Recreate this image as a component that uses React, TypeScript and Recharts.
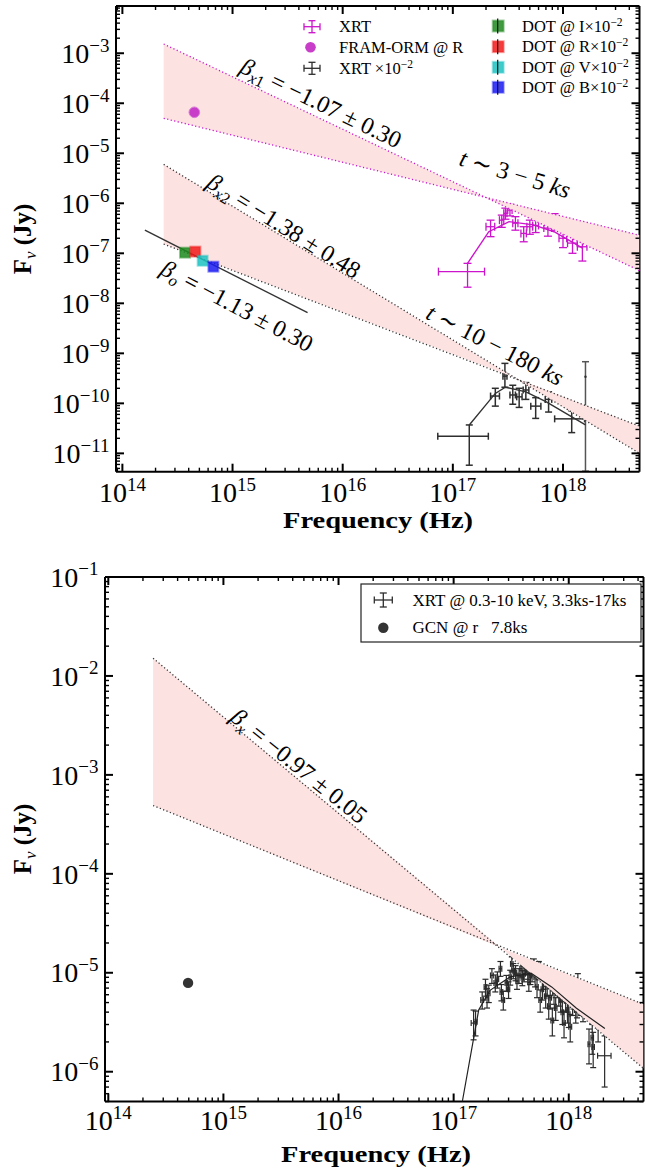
import React from 'react';
import { ComposedChart, Scatter, XAxis, YAxis, ErrorBar } from 'recharts';

const SERIF = '"Liberation Serif", "DejaVu Serif", "Times New Roman", serif';
const PINK = '#fde2e2';
const MAGENTA = '#cc14cc';
const DARK = '#2e2e2e';

// ---------------- axes ----------------
const TOP_X_DOMAIN: [number, number] = [8.75e13, 4.95e18];
const TOP_Y_DOMAIN: [number, number] = [4.3e-12, 8.8e-3];
const BOT_X_DOMAIN: [number, number] = [9.36e13, 4.46e18];
const BOT_Y_DOMAIN: [number, number] = [5.0e-7, 1e-1];

// ---------------- top panel data ----------------
// XRT (3-5 ks), magenta
const xrtNu = [1.36e17, 2.2e17, 2.78e17, 3.0e17, 3.3e17, 3.7e17, 4.4e17, 5.0e17, 5.65e17, 7.3e17, 8.4e17, 1.0e18, 1.22e18, 1.5e18];
const xrtNuLo = [7.4e16, 2.0e17, 2.65e17, 2.9e17, 3.15e17, 3.5e17, 4.15e17, 4.7e17, 5.3e17, 6.7e17, 7.9e17, 9.2e17, 1.1e18, 1.35e18];
const xrtNuHi = [1.94e17, 2.4e17, 2.9e17, 3.1e17, 3.45e17, 3.9e17, 4.65e17, 5.3e17, 6.0e17, 7.9e17, 8.9e17, 1.08e18, 1.35e18, 1.65e18];
const xrtF = [4.3e-8, 3.4e-7, 4.6e-7, 6.3e-7, 7.3e-7, 4.0e-7, 2.5e-7, 3.4e-7, 3.6e-7, 3.2e-7, 4.3e-7, 2.0e-7, 1.6e-7, 1.35e-7];
const xrtFLo = [2.1e-8, 2.15e-7, 3.3e-7, 4.8e-7, 5.6e-7, 2.9e-7, 1.7e-7, 2.4e-7, 2.6e-7, 2.2e-7, 2.9e-7, 1.3e-7, 1.0e-7, 7.0e-8];
const xrtFHi = [6.3e-8, 4.6e-7, 5.8e-7, 8.0e-7, 9.5e-7, 5.4e-7, 3.4e-7, 4.6e-7, 4.9e-7, 4.4e-7, 6.2e-7, 2.9e-7, 2.3e-7, 2.0e-7];
const xrtModelNu = [1.36e17, 2.12e17, 3.24e17, 5.4e17, 8.3e17, 1.52e18];
const xrtModelF = [6.3e-8, 2.7e-7, 4.3e-7, 3.7e-7, 2.7e-7, 1.26e-7];

// XRT x 1e-2 (10-180 ks), black
const xrtLateNu = [1.41e17, 2.43e17, 2.97e17, 3.5e17, 4.0e17, 4.6e17, 5.65e17, 7.4e17, 1.2e18];
const xrtLateNuLo = [7.3e16, 2.2e17, 2.85e17, 3.3e17, 3.8e17, 4.35e17, 5.1e17, 6.9e17, 8.4e17];
const xrtLateNuHi = [2.1e17, 2.65e17, 3.1e17, 3.7e17, 4.25e17, 4.9e17, 6.3e17, 7.9e17, 1.57e18];
const xrtLateF = [2.2e-11, 1.4e-10, 3.5e-10, 1.47e-10, 1.35e-10, 1.85e-10, 8.8e-11, 1.2e-10, 4.9e-11];
const xrtLateFLo = [5.8e-12, 8.8e-11, 2.1e-10, 9.6e-11, 8.3e-11, 1.2e-10, 5.0e-11, 6.7e-11, 2.6e-11];
const xrtLateFHi = [3.7e-11, 2.0e-10, 6.3e-10, 2.3e-10, 2.0e-10, 2.6e-10, 1.3e-10, 1.7e-10, 7.1e-11];
const xrtLateLongNu = [1.6e18];
const xrtLateLongF = [3.4e-10];
const xrtLateLongFLo = [4.4e-12];
const xrtLateLongFHi = [6.8e-10];
const xrtLateModelNu = [1.41e17, 2.43e17, 3.0e17, 4.6e17, 7.0e17, 1.6e18];
const xrtLateModelF = [3.7e-11, 1.58e-10, 2.1e-10, 1.7e-10, 1.08e-10, 3.7e-11];

// optical
const framNu = [4.5e14];
const framF = [6.6e-5];
const dotBands = ['I', 'R', 'V', 'B'];
const dotNu = [3.7e14, 4.6e14, 5.35e14, 6.7e14];
const dotF = [1.03e-7, 1.08e-7, 7.1e-8, 5.4e-8];
const DOT_COLORS = ['#1f8a1f', '#f21a1a', '#1fc2c2', '#1a1af2'];
const betaOptNu = [1.6e14, 4.8e15];
const betaOptF = [2.9e-7, 6.5e-9];

// spectral-index wedges: [start, pivot, end]
const wedgeX1Nu = [2.37e14, 1.94e17, 4.95e18];
const wedgeX1Steep = [1.53e-3, 1.33e-6, 4.5e-8];
const wedgeX1Shallow = [5.0e-5, 1.33e-6, 2.3e-7];
const wedgeX2Nu = [2.37e14, 3.6e17, 4.95e18];
const wedgeX2Steep = [6.0e-6, 3.3e-10, 1.0e-11];
const wedgeX2Shallow = [1.53e-7, 3.3e-10, 3.5e-11];

// ---------------- bottom panel data ----------------
const botNu = [
  1.49e17, 1.55e17, 1.77e17, 1.89e17, 1.95e17, 2.02e17, 2.15e17, 2.3e17, 2.4e17, 2.55e17,
  2.6e17, 2.7e17, 2.87e17, 3.0e17, 3.1e17, 3.2e17, 3.3e17, 3.45e17, 3.55e17, 3.7e17,
  3.85e17, 3.95e17, 4.1e17, 4.2e17, 4.4e17, 4.5e17, 4.65e17, 4.8e17, 4.97e17, 5.1e17,
  5.3e17, 5.5e17, 5.65e17, 5.9e17, 6.05e17, 6.3e17, 6.5e17, 6.7e17, 6.9e17, 7.2e17,
  7.45e17, 7.7e17, 8.0e17, 8.2e17, 8.5e17, 8.8e17, 9.1e17, 9.4e17, 9.75e17, 1.0e18,
  1.03e18, 1.08e18, 1.1e18, 1.15e18, 1.18e18, 1.2e18, 1.23e18, 1.26e18, 1.28e18, 1.3e18,
  1.33e18, 1.5e18, 1.6e18, 1.63e18, 1.8e18, 2.05e18,
];
const botNuLo = [
  1.42e17, 1.5e17, 1.72e17, 1.84e17, 1.9e17, 1.97e17, 2.09e17, 2.24e17, 2.34e17, 2.48e17,
  2.53e17, 2.63e17, 2.8e17, 2.93e17, 3.03e17, 3.12e17, 3.22e17, 3.37e17, 3.47e17, 3.62e17,
  3.76e17, 3.86e17, 4.0e17, 4.1e17, 4.3e17, 4.4e17, 4.54e17, 4.69e17, 4.85e17, 4.98e17,
  5.17e17, 5.37e17, 5.5e17, 5.75e17, 5.9e17, 6.14e17, 6.34e17, 6.53e17, 6.72e17, 7.0e17,
  7.25e17, 7.5e17, 7.8e17, 8.0e17, 8.28e17, 8.57e17, 8.87e17, 9.16e17, 9.5e17, 9.75e17,
  1.0e18, 1.05e18, 1.07e18, 1.12e18, 1.15e18, 1.17e18, 1.2e18, 1.23e18, 1.25e18, 1.27e18,
  1.3e18, 1.47e18, 1.56e18, 1.59e18, 1.75e18, 1.78e18,
];
const botNuHi = [
  1.56e17, 1.6e17, 1.82e17, 1.94e17, 2.0e17, 2.07e17, 2.21e17, 2.36e17, 2.46e17, 2.62e17,
  2.67e17, 2.77e17, 2.94e17, 3.07e17, 3.17e17, 3.28e17, 3.38e17, 3.53e17, 3.63e17, 3.78e17,
  3.94e17, 4.04e17, 4.2e17, 4.3e17, 4.5e17, 4.6e17, 4.76e17, 4.91e17, 5.09e17, 5.22e17,
  5.43e17, 5.63e17, 5.8e17, 6.05e17, 6.2e17, 6.46e17, 6.66e17, 6.87e17, 7.08e17, 7.4e17,
  7.65e17, 7.9e17, 8.2e17, 8.4e17, 8.72e17, 9.03e17, 9.33e17, 9.64e17, 1.0e18, 1.025e18,
  1.06e18, 1.11e18, 1.13e18, 1.18e18, 1.21e18, 1.23e18, 1.26e18, 1.29e18, 1.31e18, 1.33e18,
  1.36e18, 1.53e18, 1.64e18, 1.67e18, 1.85e18, 2.33e18,
];
const botF = [
  3.1e-6, 3.2e-6, 5.3e-6, 7.2e-6, 5.6e-6, 6.2e-6, 9.4e-6, 7.9e-6, 8.6e-6, 1.1e-5,
  6.4e-6, 5.3e-6, 7.9e-6, 6.8e-6, 9.0e-6, 1.23e-5, 1.05e-5, 1.0e-5, 8.2e-6, 9.4e-6,
  1.1e-5, 8.9e-6, 9.8e-6, 1.15e-5, 1.05e-5, 8.0e-6, 9.4e-6, 1.0e-5, 1.15e-5, 9.0e-6,
  7.2e-6, 1.07e-5, 5.3e-6, 6.8e-6, 8.6e-6, 5.8e-6, 7.4e-6, 4.6e-6, 5.6e-6, 3.3e-6,
  6.2e-6, 4.4e-6, 7.9e-6, 6.0e-6, 5.3e-6, 4.0e-6, 3.1e-6, 5.2e-6, 4.2e-6, 3.8e-6,
  2.85e-6, 4.9e-6, 5.6e-6, 4.2e-6, 4.6e-6, 7.9e-6, 6.4e-6, 5.8e-6, 4.8e-6, 5.0e-6,
  4.2e-6, 1.9e-6, 2.2e-6, 1.78e-6, 2.85e-6, 1.45e-6,
];
const botFLo = [
  2.1e-6, 2.3e-6, 4.3e-6, 5.8e-6, 4.4e-6, 5.0e-6, 7.8e-6, 6.4e-6, 7.0e-6, 9.2e-6,
  5.2e-6, 4.2e-6, 6.5e-6, 5.5e-6, 7.5e-6, 1.02e-5, 8.7e-6, 8.3e-6, 6.8e-6, 7.8e-6,
  9.1e-6, 7.4e-6, 8.1e-6, 9.5e-6, 8.6e-6, 6.5e-6, 7.6e-6, 8.1e-6, 9.3e-6, 7.2e-6,
  5.6e-6, 8.5e-6, 4.0e-6, 5.3e-6, 6.8e-6, 4.4e-6, 5.8e-6, 3.4e-6, 4.3e-6, 2.3e-6,
  4.8e-6, 3.3e-6, 6.2e-6, 4.6e-6, 4.0e-6, 3.0e-6, 2.2e-6, 4.0e-6, 3.1e-6, 2.8e-6,
  2.0e-6, 3.7e-6, 4.3e-6, 3.1e-6, 3.5e-6, 6.2e-6, 5.0e-6, 4.5e-6, 3.7e-6, 3.9e-6,
  3.2e-6, 1.2e-6, 1.5e-6, 1.1e-6, 2.0e-6, 7.0e-7,
];
const botFHi = [
  4.2e-6, 4.1e-6, 6.4e-6, 8.6e-6, 6.9e-6, 7.5e-6, 1.1e-5, 9.5e-6, 1.02e-5, 1.3e-5,
  7.6e-6, 6.5e-6, 9.4e-6, 8.1e-6, 1.06e-5, 1.45e-5, 1.24e-5, 1.18e-5, 9.7e-6, 1.1e-5,
  1.3e-5, 1.05e-5, 1.16e-5, 1.36e-5, 1.25e-5, 9.6e-6, 1.13e-5, 1.2e-5, 1.38e-5, 1.09e-5,
  8.9e-6, 1.3e-5, 6.7e-6, 8.4e-6, 1.05e-5, 7.3e-6, 9.1e-6, 5.9e-6, 7.0e-6, 4.4e-6,
  7.7e-6, 5.6e-6, 9.7e-6, 7.5e-6, 6.7e-6, 5.1e-6, 4.1e-6, 6.5e-6, 5.4e-6, 4.9e-6,
  3.8e-6, 6.2e-6, 7.0e-6, 5.4e-6, 5.8e-6, 9.8e-6, 7.9e-6, 7.2e-6, 6.0e-6, 6.2e-6,
  5.3e-6, 2.7e-6, 3.0e-6, 2.5e-6, 3.8e-6, 2.3e-6,
];
const botModelNu = [1.19e17, 1.65e17, 2.07e17, 3.11e17, 4.7e17, 7.1e17, 1.16e18, 2.06e18];
const botModelF = [5.0e-7, 4.2e-6, 6.65e-6, 9.1e-6, 9.9e-6, 7.2e-6, 4.4e-6, 2.73e-6];
const gcnNu = [4.93e14];
const gcnF = [7.9e-6];
const wedgeXNu = [2.45e14, 2.55e17, 4.46e18];
const wedgeXSteep = [1.51e-2, 1.8e-5, 1.08e-6];
const wedgeXShallow = [4.9e-4, 1.8e-5, 4.8e-6];

// ---------------- ticks ----------------
const X_MAJOR = [1e14, 1e15, 1e16, 1e17, 1e18];
const TOP_Y_MAJOR = [1e-11, 1e-10, 1e-9, 1e-8, 1e-7, 1e-6, 1e-5, 1e-4, 1e-3];
const BOT_Y_MAJOR = [1e-6, 1e-5, 1e-4, 1e-3, 1e-2, 1e-1];

const withMinors = (majors: number[], domain: [number, number]) => {
  const out: number[] = [];
  const decades = [majors[0] / 10, ...majors];
  decades.forEach((m) => {
    for (let k = 1; k <= 9; k++) {
      const v = k * m;
      if (v >= domain[0] * 0.9999 && v <= domain[1] * 1.0001) out.push(v);
    }
  });
  return out;
};

// ---------------- helpers ----------------
const pts = (nu: number[], f: number[]) => nu.map((x, i) => ({ x, y: f[i] }));
const errRows = (nu: number[], nuLo: number[], nuHi: number[], f: number[], fLo: number[], fHi: number[]) =>
  nu.map((x, i) => ({ x, y: f[i], ex: [x - nuLo[i], nuHi[i] - x], ey: [f[i] - fLo[i], fHi[i] - f[i]] }));
const yErrRows = (nu: number[], f: number[], fLo: number[], fHi: number[]) =>
  nu.map((x, i) => ({ x, y: f[i], ey: [f[i] - fLo[i], fHi[i] - f[i]] }));
const bowTie = (nu: number[], steep: number[], shallow: number[]) => [
  { x: nu[0], y: steep[0] },
  { x: nu[1], y: steep[1] },
  { x: nu[2], y: shallow[2] },
  { x: nu[2], y: steep[2] },
  { x: nu[1], y: steep[1] },
  { x: nu[0], y: shallow[0] },
];
const edge = (nu: number[], f: number[]) => [
  { x: nu[0], y: f[0] },
  { x: nu[2], y: f[2] },
];

const isMajorTick = (v: number) => Math.abs(Math.log10(v) - Math.round(Math.log10(v))) < 1e-6;
const expLabel = (v: number) => {
  const e = Math.round(Math.log10(v));
  return (e < 0 ? '\u2212' : '') + Math.abs(e);
};

function TickMark(props: any) {
  const { x, y, payload, side, labelGap } = props;
  const v = payload && payload.value;
  if (v == null || !isFinite(x) || !isFinite(y)) return null;
  const major = isMajorTick(v);
  const len = major ? 8 : 4;
  const sw = major ? 2 : 1.4;
  let line;
  if (side === 'bottom') line = <line x1={x} x2={x} y1={y} y2={y - len} stroke="#000" strokeWidth={sw} />;
  else if (side === 'top') line = <line x1={x} x2={x} y1={y} y2={y + len} stroke="#000" strokeWidth={sw} />;
  else if (side === 'left') line = <line x1={x} x2={x + len} y1={y} y2={y} stroke="#000" strokeWidth={sw} />;
  else line = <line x1={x} x2={x - len} y1={y} y2={y} stroke="#000" strokeWidth={sw} />;
  let label = null;
  if (major && side === 'bottom') {
    label = (
      <text x={x} y={y + labelGap} textAnchor="middle" fontFamily={SERIF} fontSize={28} fill="#000">
        10<tspan dy={-11} fontSize={19}>{expLabel(v)}</tspan>
      </text>
    );
  }
  if (major && side === 'left') {
    label = (
      <text x={x - 6.5} y={y + 9.7} textAnchor="end" fontFamily={SERIF} fontSize={28} fill="#000">
        10<tspan dy={-11.3} fontSize={19}>{expLabel(v)}</tspan>
      </text>
    );
  }
  return (
    <g>
      {line}
      {label}
    </g>
  );
}

function PolyFill(props: any) {
  const p = props.points || [];
  if (!p.length) return null;
  const d = p.map((q: any, i: number) => `${i ? 'L' : 'M'}${q.x},${q.y}`).join('') + 'Z';
  return <path d={d} fill={props.polyColor} stroke="none" />;
}

const noShape = () => <g />;
const AXIS_LINE = { stroke: '#000', strokeWidth: 2 };

function frameAxes(xDomain: [number, number], yDomain: [number, number], yMajor: number[], xGap: number) {
  const xt = withMinors(X_MAJOR, xDomain);
  const yt = withMinors(yMajor, yDomain);
  const common = { type: 'number' as const, scale: 'log' as const, allowDataOverflow: true, interval: 0, tickSize: 0, tickMargin: 0, tickLine: false, axisLine: AXIS_LINE };
  return [
    <XAxis key="xb" xAxisId="b" dataKey="x" orientation="bottom" height={1} domain={xDomain} ticks={xt} tick={<TickMark side="bottom" labelGap={xGap} />} {...common} />,
    <XAxis key="xt" xAxisId="t" dataKey="x" orientation="top" height={1} domain={xDomain} ticks={xt} tick={<TickMark side="top" />} {...common} />,
    <YAxis key="yl" yAxisId="l" dataKey="y" orientation="left" width={1} domain={yDomain} ticks={yt} tick={<TickMark side="left" />} {...common} />,
    <YAxis key="yr" yAxisId="r" dataKey="y" orientation="right" width={1} domain={yDomain} ticks={yt} tick={<TickMark side="right" />} {...common} />,
  ];
}

const fillSeries = (key: string, data: any[]) => (
  <Scatter key={key} data={data} xAxisId="b" yAxisId="l" isAnimationActive={false} shape={noShape} line={<PolyFill polyColor={PINK} />} />
);
const lineSeries = (key: string, data: any[], color: string, width: number, dash?: string) => (
  <Scatter
    key={key}
    data={data}
    xAxisId="b"
    yAxisId="l"
    isAnimationActive={false}
    shape={noShape}
    fill="none"
    line={{ stroke: color, strokeWidth: width, strokeDasharray: dash, fill: 'none' }}
    lineJointType="linear"
  />
);
const errSeries = (key: string, data: any[], color: string, cap: number, sw: number) => (
  <Scatter key={key} data={data} xAxisId="b" yAxisId="l" isAnimationActive={false} shape={noShape} fill={color}>
    <ErrorBar dataKey="ex" direction="x" width={cap} stroke={color} strokeWidth={sw} isAnimationActive={false} />
    <ErrorBar dataKey="ey" direction="y" width={cap} stroke={color} strokeWidth={sw} isAnimationActive={false} />
  </Scatter>
);

function TopChart() {
  return (
    <ComposedChart width={645} height={530} margin={{ top: 5, right: 4.5, bottom: 57.3, left: 115 }}>
      {frameAxes(TOP_X_DOMAIN, TOP_Y_DOMAIN, TOP_Y_MAJOR, 30)}
      {fillSeries('w1', bowTie(wedgeX1Nu, wedgeX1Steep, wedgeX1Shallow))}
      {fillSeries('w2', bowTie(wedgeX2Nu, wedgeX2Steep, wedgeX2Shallow))}
      {lineSeries('w1a', edge(wedgeX1Nu, wedgeX1Steep), MAGENTA, 1.3, '1.2 2.4')}
      {lineSeries('w1b', edge(wedgeX1Nu, wedgeX1Shallow), MAGENTA, 1.3, '1.2 2.4')}
      {lineSeries('w2a', edge(wedgeX2Nu, wedgeX2Steep), '#333', 1.3, '1.2 2.4')}
      {lineSeries('w2b', edge(wedgeX2Nu, wedgeX2Shallow), '#333', 1.3, '1.2 2.4')}
      {lineSeries('bo', pts(betaOptNu, betaOptF), '#333', 1.4)}
      {lineSeries('mm', pts(xrtModelNu, xrtModelF), MAGENTA, 1.4)}
      {lineSeries('bm', pts(xrtLateModelNu, xrtLateModelF), '#333', 1.4)}
      {errSeries('xrt', errRows(xrtNu, xrtNuLo, xrtNuHi, xrtF, xrtFLo, xrtFHi), MAGENTA, 4, 1.3)}
      {errSeries('xrtl', errRows(xrtLateNu, xrtLateNuLo, xrtLateNuHi, xrtLateF, xrtLateFLo, xrtLateFHi), DARK, 3.5, 1.5)}
      <Scatter key="long" data={yErrRows(xrtLateLongNu, xrtLateLongF, xrtLateLongFLo, xrtLateLongFHi)} xAxisId="b" yAxisId="l" isAnimationActive={false} shape={(p: any) => <circle cx={p.cx} cy={p.cy} r={1.2} fill={DARK} />}>
        <ErrorBar dataKey="ey" direction="y" width={3.5} stroke="#555" strokeWidth={1.5} isAnimationActive={false} />
      </Scatter>
      {dotBands.map((b, i) => (
        <Scatter
          key={'dot' + b}
          data={[{ x: dotNu[i], y: dotF[i] }]}
          xAxisId="b"
          yAxisId="l"
          isAnimationActive={false}
          shape={(p: any) => (
            <rect x={p.cx - 5} y={p.cy - 5} width={10} height={10} fill={DOT_COLORS[i]} fillOpacity={0.85} stroke={DOT_COLORS[i]} strokeOpacity={0.45} strokeWidth={2} />
          )}
        />
      ))}
      <Scatter
        key="fram"
        data={pts(framNu, framF)}
        xAxisId="b"
        yAxisId="l"
        isAnimationActive={false}
        shape={(p: any) => <circle cx={p.cx} cy={p.cy} r={5.3} fill="#c83ec8" stroke="#d77bd7" strokeWidth={1} />}
      />
    </ComposedChart>
  );
}

function BottomChart() {
  return (
    <ComposedChart width={645} height={644} margin={{ top: 46, right: 0.5, bottom: 71.5, left: 104 }}>
      {frameAxes(BOT_X_DOMAIN, BOT_Y_DOMAIN, BOT_Y_MAJOR, 28.5)}
      {fillSeries('w3', bowTie(wedgeXNu, wedgeXSteep, wedgeXShallow))}
      {lineSeries('w3a', edge(wedgeXNu, wedgeXSteep), '#333', 1.3, '1.2 2.4')}
      {lineSeries('w3b', edge(wedgeXNu, wedgeXShallow), '#333', 1.3, '1.2 2.4')}
      {errSeries('bx', errRows(botNu, botNuLo, botNuHi, botF, botFLo, botFHi), '#2a2a2a', 3, 1.2)}
      {lineSeries('bmod', pts(botModelNu, botModelF), '#222', 1.2)}
      <Scatter
        key="gcn"
        data={pts(gcnNu, gcnF)}
        xAxisId="b"
        yAxisId="l"
        isAnimationActive={false}
        shape={(p: any) => <circle cx={p.cx} cy={p.cy} r={5.2} fill="#333" />}
      />
    </ComposedChart>
  );
}

function ErrIcon({ x, y, color, hw, hh }: any) {
  const c = 3.5;
  return (
    <g stroke={color} strokeWidth={1.3}>
      <line x1={x - hw} x2={x + hw} y1={y} y2={y} />
      <line x1={x} x2={x} y1={y - hh} y2={y + hh} />
      <line x1={x - hw} x2={x - hw} y1={y - c} y2={y + c} />
      <line x1={x + hw} x2={x + hw} y1={y - c} y2={y + c} />
      <line x1={x - c} x2={x + c} y1={y - hh} y2={y - hh} />
      <line x1={x - c} x2={x + c} y1={y + hh} y2={y + hh} />
    </g>
  );
}

function Beta({ cx, cy, angle, sub, subItalic, rest, size = 24 }: any) {
  return (
    <text transform={`translate(${cx},${cy}) rotate(${angle})`} x={0} y={8} textAnchor="middle" fontFamily={SERIF} fontSize={size} fill="#000">
      <tspan fontStyle="italic">β</tspan>
      <tspan fontStyle="italic" fontSize={size * 0.68} dy={5}>{subItalic}</tspan>
      <tspan fontSize={size * 0.68}>{sub}</tspan>
      <tspan dy={-5}>{rest}</tspan>
    </text>
  );
}

function TimeLabel({ cx, cy, angle, mid }: any) {
  return (
    <text transform={`translate(${cx},${cy}) rotate(${angle})`} x={0} y={8} textAnchor="middle" fontFamily={SERIF} fontSize={24} fill="#000">
      <tspan fontStyle="italic">t</tspan>
      {mid}
      <tspan fontStyle="italic">ks</tspan>
    </text>
  );
}

function Overlay() {
  const legFont = 16.5;
  const rowsL = [26.7, 47.3, 68.3];
  const rowsR = [26, 46.7, 67.3, 87.3];
  return (
    <svg width={645} height={1174} style={{ position: 'absolute', left: 0, top: 0, pointerEvents: 'none' }}>
      {/* axis labels */}
      <text x={378} y={528} textAnchor="middle" fontFamily={SERIF} fontWeight="bold" fontSize={24} textLength={190} lengthAdjust="spacingAndGlyphs">Frequency (Hz)</text>
      <text x={376} y={1162} textAnchor="middle" fontFamily={SERIF} fontWeight="bold" fontSize={24} textLength={190} lengthAdjust="spacingAndGlyphs">Frequency (Hz)</text>
      <text transform="translate(31,239) rotate(-90)" textAnchor="middle" fontFamily={SERIF} fontWeight="bold" fontSize={25}>
        F<tspan fontStyle="italic" fontWeight="normal" fontSize={17} dy={5}>ν</tspan><tspan dy={-5}> (Jy)</tspan>
      </text>
      <text transform="translate(31,839) rotate(-90)" textAnchor="middle" fontFamily={SERIF} fontWeight="bold" fontSize={25}>
        F<tspan fontStyle="italic" fontWeight="normal" fontSize={17} dy={5}>ν</tspan><tspan dy={-5}> (Jy)</tspan>
      </text>

      {/* annotations top */}
      <Beta cx={321} cy={103} angle={26} subItalic="x" sub="1" rest=" = −1.07 ± 0.30" />
      <Beta cx={284} cy={226} angle={32} subItalic="x" sub="2" rest=" = −1.38 ± 0.48" />
      <Beta cx={237} cy={306} angle={28} subItalic="o" sub="" rest=" = −1.13 ± 0.30" />
      <TimeLabel cx={515} cy={174} angle={17} mid=" ∼ 3 − 5 " />
      <TimeLabel cx={495} cy={345} angle={27} mid=" ∼ 10 − 180 " />
      {/* annotation bottom */}
      <Beta cx={299} cy={766} angle={39} subItalic="x" sub="" rest=" = −0.97 ± 0.05" />

      {/* top legend */}
      <ErrIcon x={312} y={rowsL[0]} color={MAGENTA} hw={8} hh={6} />
      <text x={339} y={rowsL[0] + 5.5} fontFamily={SERIF} fontSize={legFont}>XRT</text>
      <circle cx={310.5} cy={rowsL[1]} r={5.3} fill="#c83ec8" />
      <text x={339} y={rowsL[1] + 5.5} fontFamily={SERIF} fontSize={legFont}>FRAM-ORM @ R</text>
      <ErrIcon x={312} y={rowsL[2]} color={DARK} hw={8} hh={6} />
      <text x={339} y={rowsL[2] + 5.5} fontFamily={SERIF} fontSize={legFont}>
        XRT ×10<tspan dy={-6} fontSize={11.5}>−2</tspan>
      </text>
      {dotBands.map((b, i) => (
        <g key={b}>
          <rect x={492.7} y={rowsR[i] - 5.5} width={11} height={11} fill={DOT_COLORS[i]} fillOpacity={0.85} stroke={DOT_COLORS[i]} strokeOpacity={0.4} strokeWidth={2} />
          <line x1={497.7} x2={497.7} y1={rowsR[i] - 7.5} y2={rowsR[i] + 7.5} stroke="#111" strokeWidth={1.2} />
          <text x={522} y={rowsR[i] + 5.5} fontFamily={SERIF} fontSize={legFont}>
            DOT @ {b}×10<tspan dy={-6} fontSize={11.5}>−2</tspan>
          </text>
        </g>
      ))}

      {/* bottom legend */}
      <rect x={361} y={584} width={280} height={58} fill="#fff" stroke="#222" strokeWidth={1.2} />
      <ErrIcon x={383.3} y={600} color={DARK} hw={9} hh={7} />
      <text x={412.5} y={605.5} fontFamily={SERIF} fontSize={17}>XRT @ 0.3-10 keV, 3.3ks-17ks</text>
      <circle cx={383.3} cy={627.7} r={5.2} fill="#333" />
      <text x={412.5} y={633.2} fontFamily={SERIF} fontSize={17}>{'GCN @ r\u00a0\u00a0\u00a07.8ks'}</text>
    </svg>
  );
}

export default function App() {
  return (
    <div style={{ position: 'absolute', left: 0, top: 0, width: 645, height: 1174, background: '#fff', overflow: 'hidden' }}>
      <div style={{ position: 'absolute', left: 0, top: 0 }}>
        <TopChart />
      </div>
      <div style={{ position: 'absolute', left: 0, top: 530 }}>
        <BottomChart />
      </div>
      <Overlay />
    </div>
  );
}
